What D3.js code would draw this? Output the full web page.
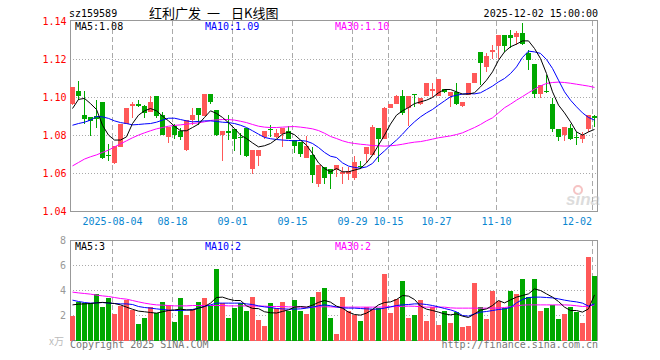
<!DOCTYPE html>
<html>
<head>
<meta charset="utf-8">
<script src="https://cdn.jsdelivr.net/npm/d3@7"></script>
<style>
  body { margin: 0; background: #fff; }
</style>
</head>
<body>
<div id="chart"></div>
<script>
// trading days shown on the chart
const DATES = ["2025-07-24","2025-07-25","2025-07-28","2025-07-29","2025-07-30","2025-07-31","2025-08-01",
    "2025-08-04","2025-08-05","2025-08-06","2025-08-07","2025-08-08",
    "2025-08-11","2025-08-12","2025-08-13","2025-08-14","2025-08-15",
    "2025-08-18","2025-08-19","2025-08-20","2025-08-21","2025-08-22",
    "2025-08-25","2025-08-26","2025-08-27","2025-08-28","2025-08-29",
    "2025-09-01","2025-09-02","2025-09-03","2025-09-04","2025-09-05",
    "2025-09-08","2025-09-09","2025-09-10","2025-09-11","2025-09-12",
    "2025-09-15","2025-09-16","2025-09-17","2025-09-18","2025-09-19",
    "2025-09-22","2025-09-23","2025-09-24","2025-09-25","2025-09-26",
    "2025-09-29","2025-09-30","2025-10-09","2025-10-10",
    "2025-10-13","2025-10-14","2025-10-15","2025-10-16","2025-10-17",
    "2025-10-20","2025-10-21","2025-10-22","2025-10-23","2025-10-24",
    "2025-10-27","2025-10-28","2025-10-29","2025-10-30","2025-10-31",
    "2025-11-03","2025-11-04","2025-11-05","2025-11-06","2025-11-07",
    "2025-11-10","2025-11-11","2025-11-12","2025-11-13","2025-11-14",
    "2025-11-17","2025-11-18","2025-11-19","2025-11-20","2025-11-21",
    "2025-11-24","2025-11-25","2025-11-26","2025-11-27","2025-11-28",
    "2025-12-01","2025-12-02"];

const OPEN = [1.0965,1.1033,1.0907,1.0895,1.0902,1.0975,1.0700,1.0653,1.0740,1.0863,
    1.0956,1.0967,1.0955,1.0925,1.1007,1.0907,1.0793,1.0849,1.0825,1.0723,
    1.0881,1.0944,1.0905,1.1018,1.0933,1.0802,1.0823,1.0832,1.0792,1.0842,
    1.0625,1.0691,1.0793,1.0833,1.0790,1.0807,1.0825,1.0776,1.0767,1.0679,
    1.0697,1.0544,1.0635,1.0626,1.0621,1.0596,1.0597,1.0574,1.0642,1.0702,
    1.0697,1.0842,1.0784,1.0947,1.0965,1.1007,1.0947,1.1016,1.0965,1.1007,
    1.1035,1.1007,1.1044,1.1009,1.1030,1.0954,1.1012,1.1074,1.1237,1.1161,
    1.1240,1.1270,1.1328,1.1328,1.1319,1.1340,1.1232,1.1175,1.1018,1.1032,
    1.0965,1.0833,1.0802,1.0842,1.0792,1.0784,1.0832,1.0904];
const HIGH = [1.1055,1.1086,1.1033,1.0898,1.0986,1.0975,1.0755,1.0744,1.0863,1.0944,
    1.0975,1.0986,1.0958,1.1007,1.1007,1.0925,1.0846,1.0863,1.0837,1.0881,
    1.0944,1.0944,1.1018,1.1018,1.0935,1.0823,1.0907,1.0832,1.0814,1.0842,
    1.0723,1.0723,1.0823,1.0854,1.0832,1.0842,1.0849,1.0776,1.0767,1.0800,
    1.0737,1.0644,1.0635,1.0626,1.0644,1.0635,1.0635,1.0691,1.0667,1.0737,
    1.0855,1.0842,1.0951,1.0965,1.1012,1.1042,1.1007,1.1016,1.1000,1.1077,
    1.1077,1.1100,1.1047,1.1030,1.1074,1.0977,1.1077,1.1128,1.1237,1.1232,
    1.1275,1.1328,1.1328,1.1354,1.1351,1.1393,1.1249,1.1175,1.1065,1.1118,
    1.1000,1.0833,1.0846,1.0863,1.0819,1.0819,1.0907,1.0907];
const LOW = [1.0960,1.0985,1.0860,1.0798,1.0837,1.0677,1.0667,1.0649,1.0740,1.0863,
    1.0893,1.0951,1.0893,1.0925,1.0893,1.0802,1.0762,1.0779,1.0776,1.0718,
    1.0854,1.0854,1.0905,1.0968,1.0800,1.0667,1.0776,1.0718,1.0697,1.0688,
    1.0600,1.0639,1.0784,1.0790,1.0785,1.0740,1.0779,1.0709,1.0688,1.0679,
    1.0551,1.0530,1.0544,1.0521,1.0583,1.0547,1.0568,1.0568,1.0626,1.0653,
    1.0697,1.0661,1.0784,1.0947,1.0965,1.0907,1.0849,1.0950,1.0960,1.1007,
    1.1004,1.1007,1.1025,1.0951,1.0960,1.0951,1.1012,1.1074,1.1065,1.1135,
    1.1205,1.1205,1.1240,1.1258,1.1275,1.1275,1.1144,1.1000,1.1000,1.1025,
    1.0819,1.0772,1.0772,1.0775,1.0749,1.0761,1.0819,1.0846];
const CLOSE = [1.1054,1.1009,1.0886,1.0877,1.0886,1.0684,1.0697,1.0744,1.0863,1.0944,
    1.0968,1.0956,1.0917,1.0975,1.0902,1.0802,1.0846,1.0802,1.0790,1.0881,
    1.0907,1.0907,1.1018,1.0975,1.0802,1.0823,1.0814,1.0783,1.0788,1.0691,
    1.0723,1.0723,1.0823,1.0830,1.0811,1.0842,1.0779,1.0744,1.0705,1.0744,
    1.0591,1.0644,1.0574,1.0600,1.0644,1.0609,1.0614,1.0661,1.0638,1.0737,
    1.0846,1.0784,1.0947,1.0965,1.1007,1.0916,1.1007,1.1012,1.1000,1.1077,
    1.1044,1.1097,1.1030,1.1030,1.0968,1.0977,1.1077,1.1128,1.1179,1.1218,
    1.1249,1.1328,1.1270,1.1311,1.1340,1.1281,1.1200,1.1018,1.1065,1.1028,
    1.0832,1.0793,1.0846,1.0779,1.0788,1.0802,1.0907,1.0893];

const MA5 = [1.0942,1.0990,1.0995,1.0968,1.0937,1.0854,1.0802,1.0776,1.0776,1.0793,
    1.0863,1.0907,1.0930,1.0942,1.0930,1.0902,1.0877,1.0849,1.0825,1.0825,
    1.0842,1.0860,1.0895,1.0930,1.0916,1.0895,1.0867,1.0837,1.0802,1.0784,
    1.0761,1.0740,1.0746,1.0758,1.0781,1.0807,1.0818,1.0804,1.0776,1.0749,
    1.0705,1.0656,1.0626,1.0609,1.0626,1.0609,1.0609,1.0618,1.0626,1.0656,
    1.0697,1.0749,1.0802,1.0860,1.0907,1.0930,1.0947,1.0968,1.0977,1.0986,
    1.1000,1.1025,1.1042,1.1042,1.1030,1.1018,1.1018,1.1025,1.1056,1.1091,
    1.1135,1.1196,1.1240,1.1267,1.1281,1.1298,1.1298,1.1258,1.1205,1.1126,
    1.1030,1.0960,1.0919,1.0872,1.0819,1.0802,1.0819,1.0832];
const MA10 = [1.0854,1.0863,1.0870,1.0881,1.0900,1.0898,1.0890,1.0877,1.0868,1.0863,
    1.0856,1.0858,1.0861,1.0863,1.0870,1.0881,1.0891,1.0891,1.0884,1.0877,
    1.0872,1.0874,1.0877,1.0877,1.0874,1.0870,1.0868,1.0863,1.0854,1.0842,
    1.0825,1.0807,1.0790,1.0783,1.0779,1.0776,1.0774,1.0772,1.0774,1.0770,
    1.0758,1.0737,1.0711,1.0691,1.0684,1.0656,1.0639,1.0632,1.0628,1.0635,
    1.0653,1.0691,1.0719,1.0749,1.0776,1.0807,1.0842,1.0872,1.0898,1.0919,
    1.0937,1.0960,1.0982,1.1004,1.1012,1.1018,1.1021,1.1019,1.1025,1.1042,
    1.1060,1.1082,1.1100,1.1126,1.1161,1.1211,1.1244,1.1240,1.1232,1.1200,
    1.1153,1.1091,1.1030,1.0986,1.0951,1.0919,1.0895,1.0881];
const MA30 = [1.0640,1.0658,1.0676,1.0688,1.0698,1.0711,1.0723,1.0740,1.0756,1.0772,
    1.0788,1.0802,1.0814,1.0825,1.0835,1.0842,1.0849,1.0853,1.0856,1.0860,
    1.0863,1.0867,1.0872,1.0879,1.0882,1.0884,1.0884,1.0881,1.0875,1.0868,
    1.0858,1.0849,1.0844,1.0842,1.0842,1.0844,1.0846,1.0847,1.0844,1.0840,
    1.0835,1.0826,1.0812,1.0795,1.0784,1.0772,1.0763,1.0758,1.0754,1.0751,
    1.0747,1.0746,1.0744,1.0746,1.0749,1.0754,1.0760,1.0765,1.0768,1.0774,
    1.0781,1.0788,1.0793,1.0798,1.0805,1.0814,1.0828,1.0842,1.0858,1.0877,
    1.0893,1.0919,1.0946,1.0965,1.0986,1.1005,1.1025,1.1044,1.1061,1.1074,
    1.1079,1.1081,1.1079,1.1075,1.1070,1.1065,1.1060,1.1053];

// volume in units of 万 (x万)
const VOLUME = [1.97,3.12,2.99,2.99,3.73,2.69,3.41,2.13,2.77,3.25,
    2.45,1.33,1.81,2.67,2.19,3.09,2.85,1.49,3.41,2.05,
    2.51,3.09,3.41,2.77,5.73,2.99,1.81,2.61,2.99,2.37,
    3.49,1.65,1.17,3.01,2.61,3.09,2.37,3.25,2.37,2.13,
    3.49,3.89,4.21,1.81,0.56,3.52,2.37,2.05,1.60,2.72,
    2.53,2.59,5.36,2.24,3.31,4.80,1.84,2.08,3.28,1.60,
    2.67,1.28,2.40,1.44,2.32,1.12,1.20,4.64,2.72,1.76,
    3.95,3.20,2.61,3.95,3.73,4.96,3.50,4.91,2.40,2.59,
    2.85,1.71,2.11,2.72,2.32,1.44,6.72,5.20];
const VMA5 = [2.85,2.91,2.93,2.96,3.01,3.05,3.01,2.96,2.85,2.67,
    2.50,2.35,2.30,2.24,2.19,2.30,2.40,2.45,2.51,2.45,
    2.43,2.59,2.72,2.99,3.44,3.47,3.31,3.20,3.20,2.77,
    2.57,2.55,2.30,2.22,2.20,2.33,2.45,2.67,2.72,2.67,
    2.82,3.05,3.20,3.07,2.75,2.59,2.27,2.08,2.03,2.19,
    2.48,2.85,3.04,3.09,3.28,3.60,3.55,3.28,2.75,2.51,
    2.40,2.27,2.13,2.05,2.13,1.95,1.84,2.13,2.43,2.53,
    2.80,3.20,3.01,3.25,3.47,3.60,3.73,4.13,4.00,3.73,
    3.47,3.12,2.67,2.40,2.40,2.27,2.53,3.65];
const VMA10 = [3.23,3.12,3.04,2.99,3.01,3.04,2.99,2.96,2.93,2.93,
    2.88,2.72,2.64,2.59,2.53,2.48,2.43,2.40,2.40,2.43,
    2.48,2.59,2.72,2.85,2.99,2.99,2.99,2.99,2.99,2.93,
    2.88,2.77,2.69,2.64,2.56,2.53,2.51,2.51,2.53,2.59,
    2.67,2.78,2.85,2.78,2.68,2.61,2.59,2.59,2.56,2.53,
    2.51,2.51,2.59,2.69,2.80,2.85,2.88,2.93,2.93,2.88,
    2.80,2.69,2.56,2.45,2.29,2.00,1.95,2.13,2.27,2.32,
    2.40,2.48,2.53,2.64,3.01,3.28,3.44,3.47,3.47,3.44,
    3.41,3.33,3.23,3.15,3.09,2.99,2.75,2.93];
const VMA30 = [3.87,3.81,3.76,3.71,3.63,3.57,3.52,3.44,3.36,3.31,
    3.20,3.09,2.99,2.91,2.85,2.83,2.80,2.77,2.77,2.77,
    2.80,2.80,2.80,2.80,2.80,2.80,2.77,2.77,2.77,2.77,
    2.77,2.75,2.75,2.72,2.72,2.72,2.69,2.69,2.67,2.67,
    2.67,2.69,2.70,2.69,2.67,2.67,2.67,2.67,2.67,2.67,
    2.67,2.67,2.69,2.70,2.72,2.73,2.75,2.74,2.70,2.67,
    2.67,2.67,2.67,2.61,2.59,2.59,2.59,2.59,2.59,2.59,
    2.59,2.60,2.64,2.70,2.77,2.83,2.85,2.85,2.85,2.85,
    2.85,2.85,2.85,2.83,2.78,2.72,2.75,2.85];

const TICK_DATES = ["2025-08-04","2025-08-18","2025-09-01","2025-09-15","2025-09-29",
    "2025-10-15","2025-10-27","2025-11-10","2025-12-02"];
const PRICE_TICKS = [1.04, 1.06, 1.08, 1.10, 1.12, 1.14];
const VOL_TICKS = [2, 4, 6, 8];

const UP = "#ff5858";
const DOWN = "#00a800";
const MONO = "'DejaVu Sans Mono', monospace";

const SVG = d3.select("#chart")
    .append("svg")
        .attr("width", 660)
        .attr("height", 360)
        .style("display", "block");

const LEFT = 70, RIGHT = 598;
const x = d3.scaleBand().domain(d3.range(DATES.length)).range([LEFT, RIGHT]);
const y = d3.scaleLinear().domain([1.04, 1.14]).range([211.5, 21.5]);
const yv = d3.scaleLinear().domain([0, 8]).range([340.5, 240.5]);

const tickIdx = TICK_DATES.map(d => DATES.indexOf(d));
const candles = DATES.map((d, i) => ({i: i, o: OPEN[i], h: HIGH[i], l: LOW[i], c: CLOSE[i], v: VOLUME[i]}));
const colorOf = d => d.c >= d.o ? UP : DOWN;

// header texts
SVG.append("text").attr("x", 69).attr("y", 16.5)
    .style("font", "10px " + MONO).attr("fill", "#000").text("sz159589");
// title pieces are placed one by one, the gaps are wider than a normal space
[[149, "红利广发"], [207, "一"], [231, "日K线图"]].forEach(t => {
    SVG.append("text").attr("x", t[0]).attr("y", 17.5)
        .style("font", "13px 'Noto Sans CJK SC'").attr("fill", "#000").text(t[1]);
});
SVG.append("text").attr("x", 598).attr("y", 16.5).attr("text-anchor", "end")
    .style("font", "10px " + MONO).attr("fill", "#000").text("2025-12-02 15:00:00");

// draws grid, dashes and frame of one panel
function drawPanel(top, bottom, gridYs) {
    let g = SVG.append("g").attr("shape-rendering", "crispEdges");

    g.selectAll("line.h").data(gridYs).enter().append("line")
        .attr("x1", LEFT).attr("x2", RIGHT)
        .attr("y1", d => d).attr("y2", d => d)
        .attr("stroke", "#aaa").attr("stroke-dasharray", "1,2");

    g.selectAll("line.v").data(tickIdx).enter().append("line")
        .attr("x1", d => x(d) + 0.5).attr("x2", d => x(d) + 0.5)
        .attr("y1", top).attr("y2", bottom)
        .attr("stroke", "#aaa").attr("stroke-dasharray", "5,3");

    g.append("rect")
        .attr("x", LEFT + 0.5).attr("y", top)
        .attr("width", RIGHT - LEFT - 1).attr("height", bottom - top)
        .attr("fill", "none").attr("stroke", "#999");
}

drawPanel(20.5, 211.5, PRICE_TICKS.filter(p => p > 1.04 && p < 1.14).map(y));
drawPanel(240.5, 340.5, VOL_TICKS.filter(v => v < 8).map(yv));

// sina watermark
let wm = SVG.append("g").attr("opacity", 0.5);
wm.append("circle").attr("cx", 578).attr("cy", 190).attr("r", 4)
    .attr("fill", "none").attr("stroke", "#e88").attr("stroke-width", 2);
wm.append("text").attr("x", 566).attr("y", 205)
    .style("font", "italic bold 17px 'Liberation Sans'").attr("fill", "#bbb").text("sina");

// price axis labels
SVG.selectAll("text.py").data(PRICE_TICKS).enter().append("text")
    .attr("x", 66.5).attr("y", d => y(d) + 3.5)
    .attr("text-anchor", "end")
    .style("font", "10px " + MONO).attr("fill", "#f00")
    .text(d => d.toFixed(2));

// volume axis labels
SVG.selectAll("text.vy").data(VOL_TICKS).enter().append("text")
    .attr("x", 66).attr("y", d => yv(d) + 3.5)
    .attr("text-anchor", "end")
    .style("font", "10px " + MONO).attr("fill", "#999")
    .text(d => d);
SVG.append("text").attr("x", 49).attr("y", 345)
    .style("font", "10px 'Noto Sans CJK SC'").attr("fill", "#bbb").text("x万");

// date labels
SVG.selectAll("text.dx").data(tickIdx).enter().append("text")
    .attr("x", (d, k) => k === tickIdx.length - 1 ? x(d) : x(d) + 0.5)
    .attr("y", 225)
    .attr("text-anchor", (d, k) => k === tickIdx.length - 1 ? "end" : "middle")
    .style("font", "10px " + MONO).attr("fill", "#0a86d0")
    .text((d, k) => k === 0 ? DATES[d] : DATES[d].slice(5));

// candles
let cg = SVG.append("g").attr("shape-rendering", "crispEdges");
cg.selectAll("line").data(candles).enter().append("line")
    .attr("x1", d => x(d.i) + 2.5).attr("x2", d => x(d.i) + 2.5)
    .attr("y1", d => y(d.h)).attr("y2", d => y(d.l))
    .attr("stroke", colorOf);
cg.selectAll("rect").data(candles).enter().append("rect")
    .attr("x", d => x(d.i)).attr("width", 5)
    .attr("y", d => y(Math.max(d.o, d.c)))
    .attr("height", d => Math.max(1, y(Math.min(d.o, d.c)) - y(Math.max(d.o, d.c))))
    .attr("fill", colorOf);

// volume bars
let vg = SVG.append("g").attr("shape-rendering", "crispEdges");
vg.selectAll("rect").data(candles).enter().append("rect")
    .attr("x", d => x(d.i)).attr("width", 5)
    .attr("y", d => yv(d.v)).attr("height", d => yv(0) - yv(d.v))
    .attr("fill", colorOf);

// moving average lines
function drawLine(values, scale, color) {
    let line = d3.line().x((d, i) => x(i) + 2.5).y(d => scale(d));
    SVG.append("path").datum(values)
        .attr("d", line)
        .attr("fill", "none").attr("stroke", color).attr("stroke-width", 1);
}

drawLine(MA30, y, "#ff00ff");
drawLine(MA10, y, "#0000ff");
drawLine(MA5, y, "#000000");
drawLine(VMA30, yv, "#ff00ff");
drawLine(VMA10, yv, "#0000ff");
drawLine(VMA5, yv, "#000000");

// legends
function legend(yPos, items) {
    SVG.selectAll(null).data(items).enter().append("text")
        .attr("x", d => d[0]).attr("y", yPos)
        .style("font", "10px " + MONO).attr("fill", d => d[2])
        .text(d => d[1]);
}
legend(30, [[75, "MA5:1.08", "#000"], [205, "MA10:1.09", "#00f"], [335, "MA30:1.10", "#f0f"]]);
legend(250, [[75, "MA5:3", "#000"], [205, "MA10:2", "#00f"], [335, "MA30:2", "#f0f"]]);

// footer
SVG.append("text").attr("x", 70).attr("y", 348)
    .style("font", "10px " + MONO).attr("fill", "#777").text("Copyright 2025 SINA.COM");
SVG.append("text").attr("x", 598).attr("y", 348).attr("text-anchor", "end")
    .style("font", "10px " + MONO).attr("fill", "#777").text("http://finance.sina.com.cn");
</script>
</body>
</html>
